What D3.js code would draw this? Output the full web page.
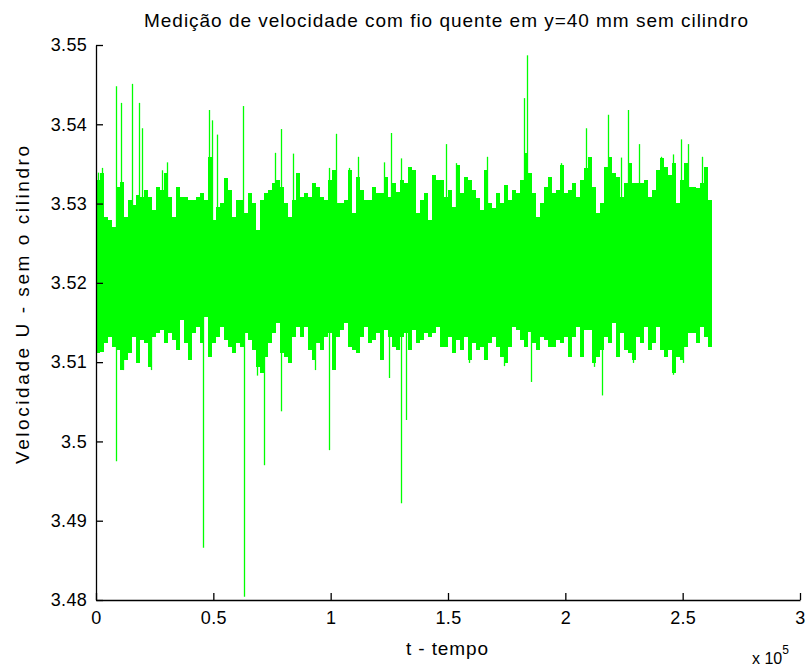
<!DOCTYPE html>
<html>
<head>
<meta charset="utf-8">
<script src="https://cdn.jsdelivr.net/npm/d3@7/dist/d3.min.js"></script>
<style>
  body { margin: 0; background: #fff; }
  text { font-family: "Liberation Sans", Arial, sans-serif; fill: #000; }
</style>
</head>
<body>
<svg width="805" height="669"></svg>
<script>
// envelope of the signal, one value per ~1700 samples
const upper = [
  3.5330,3.5339,3.5283,3.5279,3.5270,3.5321,3.5327,3.5283,3.5305,3.5298,
  3.5311,3.5308,3.5317,3.5308,3.5292,3.5321,3.5317,3.5339,3.5308,3.5283,
  3.5321,3.5308,3.5308,3.5305,3.5305,3.5308,3.5313,3.5305,3.5359,3.5279,
  3.5296,3.5301,3.5332,3.5317,3.5283,3.5305,3.5305,3.5288,3.5313,3.5301,
  3.5267,3.5305,3.5313,3.5317,3.5326,3.5330,3.5321,3.5301,3.5283,3.5305,
  3.5339,3.5308,3.5313,3.5308,3.5326,3.5321,3.5308,3.5305,3.5330,3.5342,
  3.5301,3.5301,3.5305,3.5342,3.5288,3.5334,3.5317,3.5305,3.5305,3.5321,
  3.5313,3.5313,3.5334,3.5308,3.5326,3.5315,3.5330,
  3.5326,3.5346,3.5342,3.5288,3.5305,3.5313,3.5279,3.5336,3.5330,3.5330,
  3.5308,3.5317,3.5296,3.5349,3.5313,3.5334,3.5330,3.5317,3.5307,3.5292,
  3.5342,3.5301,3.5294,3.5313,3.5301,3.5323,3.5305,3.5317,3.5313,3.5330,
  3.5364,3.5339,3.5313,3.5283,3.5301,3.5321,3.5334,3.5313,3.5317,3.5349,
  3.5313,3.5317,3.5326,3.5308,3.5330,3.5345,3.5359,3.5321,3.5288,3.5301,
  3.5346,3.5359,3.5339,3.5334,3.5308,3.5326,3.5351,3.5326,3.5326,3.5326,
  3.5330,3.5308,3.5317,3.5342,3.5357,3.5346,3.5336,3.5351,3.5301,3.5330,
  3.5351,3.5321,3.5321,3.5320,3.5326,3.5346,3.5305
];
const lower = [
  3.5112,3.5113,3.5124,3.5132,3.5119,3.5115,3.5090,3.5103,3.5112,3.5132,
  3.5099,3.5128,3.5124,3.5094,3.5132,3.5137,3.5141,3.5124,3.5137,3.5128,
  3.5115,3.5153,3.5124,3.5103,3.5137,3.5144,3.5124,3.5157,3.5107,3.5124,
  3.5132,3.5144,3.5128,3.5119,3.5112,3.5124,3.5119,3.5137,3.5128,3.5115,
  3.5094,3.5086,3.5107,3.5124,3.5137,3.5149,3.5112,3.5107,3.5099,3.5132,
  3.5144,3.5132,3.5144,3.5115,3.5103,3.5124,3.5115,3.5132,3.5137,3.5090,
  3.5132,3.5141,3.5149,3.5119,3.5115,3.5112,3.5132,3.5144,3.5124,3.5128,
  3.5137,3.5103,3.5141,3.5132,3.5119,3.5115,3.5132,
  3.5137,3.5115,3.5141,3.5124,3.5128,3.5137,3.5132,3.5137,3.5144,3.5119,
  3.5119,3.5132,3.5112,3.5128,3.5115,3.5132,3.5103,3.5124,3.5115,3.5119,
  3.5103,3.5124,3.5132,3.5119,3.5107,3.5099,3.5119,3.5144,3.5141,3.5128,
  3.5119,3.5138,3.5124,3.5115,3.5132,3.5128,3.5119,3.5119,3.5128,3.5124,
  3.5132,3.5107,3.5132,3.5144,3.5107,3.5141,3.5141,3.5099,3.5107,3.5115,
  3.5132,3.5124,3.5149,3.5107,3.5137,3.5115,3.5112,3.5103,3.5132,3.5124,
  3.5144,3.5115,3.5124,3.5144,3.5115,3.5107,3.5115,3.5086,3.5107,3.5103,
  3.5119,3.5137,3.5137,3.5124,3.5144,3.5132,3.5119
];
const tEnd = 262500;

// isolated peaks: [sample, value]
const peaksUp = [
  [980,3.5339],[2680,3.5345],[8390,3.5448],[10530,3.5427],[15210,3.5451],
  [18200,3.5427],[19470,3.5395],[28000,3.5342],[30260,3.5352],[48280,3.5418],
  [49300,3.5405],[51690,3.5387],[62770,3.5423],[76280,3.5364],[78710,3.5394],
  [83950,3.5363],[99290,3.5345],[102270,3.5388],[107810,3.5345],[111650,3.5359],
  [122730,3.5352],[125710,3.5389],[129840,3.5357],[149020,3.5375],[153280,3.5351],
  [166490,3.5359],[182380,3.5433],[183790,3.5487],[198150,3.5351],[208670,3.5395],
  [216900,3.5346],[218300,3.5412],[223720,3.5358],[226700,3.5418],[231390,3.5375],
  [240630,3.5359],[246000,3.5362],[249410,3.5381],[252140,3.5375],[258360,3.5359]
];
const peaksDown = [
  [8390,3.4975],[11510,3.5090],[23310,3.5090],[45720,3.4866],[62940,3.4804],
  [68480,3.5083],[71720,3.4970],[78710,3.5038],[93320,3.5090],[99420,3.4989],
  [124730,3.5080],[129970,3.4922],[131970,3.5027],[158950,3.5099],[173860,3.5095],
  [185240,3.5075],[212210,3.5094],[215620,3.5058],[228700,3.5099],[246000,3.5084],
  [250260,3.5099]
];

const xTicks = [0, 50000, 100000, 150000, 200000, 250000, 300000];
const yTicks = [3.48, 3.49, 3.5, 3.51, 3.52, 3.53, 3.54, 3.55];

const svg = d3.select('svg');
const green = '#00ff00';

const x = d3.scaleLinear().domain([0, 300000]).range([96, 800]);
const y = d3.scaleLinear().domain([3.48, 3.55]).range([600, 45]);

const step = tEnd / upper.length;
const cols = upper.map((u, i) => ({ t: i * step, hi: u, lo: lower[i] }));
cols.push({ t: tEnd, hi: upper[upper.length - 1], lo: lower[lower.length - 1] });

const area = d3.area()
  .x(d => x(d.t))
  .y0(d => y(d.lo))
  .y1(d => y(d.hi))
  .curve(d3.curveStepAfter);

const plot = svg.append('g');

plot.append('path')
  .datum(cols)
  .attr('d', area)
  .attr('fill', green)
  .attr('shape-rendering', 'crispEdges');

const px = t => Math.round(x(t)) + 0.5;

plot.selectAll('line.up').data(peaksUp)
  .enter().append('line')
    .attr('class', 'up')
    .attr('x1', d => px(d[0])).attr('x2', d => px(d[0]))
    .attr('y1', y(3.52)).attr('y2', d => y(d[1]))
    .attr('stroke', green).attr('stroke-width', 1.3);

plot.selectAll('line.down').data(peaksDown)
  .enter().append('line')
    .attr('class', 'down')
    .attr('x1', d => px(d[0])).attr('x2', d => px(d[0]))
    .attr('y1', y(3.52)).attr('y2', d => y(d[1]))
    .attr('stroke', green).attr('stroke-width', 1.3);

// axes, matlab style: ticks pointing inward
const xAxis = d3.axisBottom(x).tickValues(xTicks)
  .tickFormat(d => d / 100000)
  .tickSizeInner(-7).tickSizeOuter(0).tickPadding(11);
const yAxis = d3.axisLeft(y).tickValues(yTicks)
  .tickFormat(d => String(+d.toFixed(2)))
  .tickSizeInner(-7).tickSizeOuter(0).tickPadding(9);

const gx = svg.append('g').attr('transform', 'translate(0,600)').call(xAxis);
const gy = svg.append('g').attr('transform', 'translate(96,0)').call(yAxis);

[gx, gy].forEach(g => {
  g.select('.domain').attr('stroke', '#000').attr('stroke-width', 1.3);
  g.selectAll('.tick line').attr('stroke', '#000').attr('stroke-width', 1.3);
  g.selectAll('.tick text').attr('fill', '#000')
    .style('font-size', '18px').style('letter-spacing', '0.3px')
    .style('font-family', '"Liberation Sans", Arial, sans-serif');
});

svg.append('text')
  .attr('x', 446).attr('y', 27)
  .attr('text-anchor', 'middle')
  .attr('textLength', 604).attr('lengthAdjust', 'spacing')
  .style('font-size', '19px')
  .text('Medição de velocidade com fio quente em y=40 mm sem cilindro');

svg.append('text')
  .attr('transform', 'translate(29,305) rotate(-90)')
  .attr('text-anchor', 'middle')
  .attr('textLength', 318).attr('lengthAdjust', 'spacing')
  .style('font-size', '19px')
  .text('Velocidade U - sem o cilindro');

svg.append('text')
  .attr('x', 447).attr('y', 655)
  .attr('text-anchor', 'middle')
  .attr('textLength', 82).attr('lengthAdjust', 'spacing')
  .style('font-size', '19px')
  .text('t - tempo');

const mult = svg.append('text')
  .attr('x', 752).attr('y', 664)
  .style('font-size', '16px');
mult.append('tspan').text('x 10');
mult.append('tspan').attr('dy', -10).style('font-size', '12px').text('5');
</script>
</body>
</html>
